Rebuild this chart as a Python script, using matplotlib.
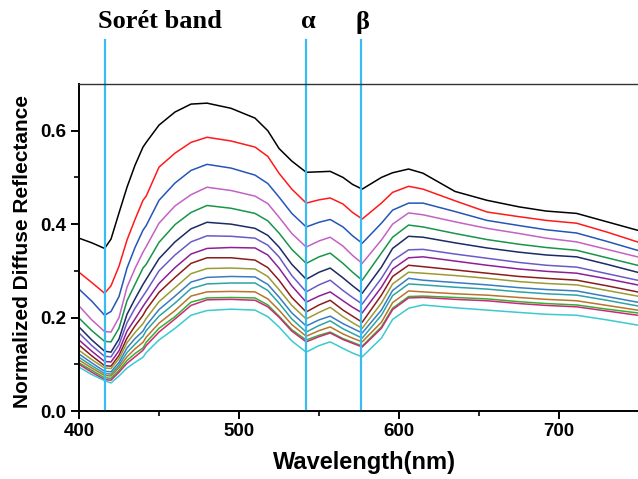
import matplotlib
matplotlib.use("Agg")
import matplotlib.pyplot as plt

# wavelength grid (nm) shared by all spectra
wl = [400, 408, 416, 420, 425, 430, 435, 440, 442, 450, 460, 470, 480, 495, 510,
      518, 525, 533, 542, 550, 557, 565, 571, 577, 589, 596, 606, 615, 635, 655,
      675, 692, 711, 730, 749]

black = [.370, .360, .348, .368, .424, .479, .526, .565, .575, .612, .640, .657, .659, .648, .627,
         .600, .562, .535, .511, .512, .513, .500, .485, .475, .500, .510, .518, .509, .470, .451,
         .437, .428, .423, .405, .387]
red = [.297, .275, .252, .268, .310, .366, .410, .451, .460, .522, .552, .575, .586, .578, .565,
       .545, .509, .475, .445, .452, .456, .443, .425, .411, .445, .468, .481, .475, .450, .426,
       .416, .408, .402, .383, .362]
blue = [.261, .235, .205, .213, .245, .306, .350, .387, .397, .451, .488, .515, .528, .520, .505,
        .487, .458, .423, .394, .404, .410, .394, .375, .359, .402, .430, .445, .445, .427, .408,
        .397, .388, .381, .363, .344]
orchid = [.225, .195, .170, .169, .200, .265, .305, .340, .352, .402, .439, .463, .479, .472, .460,
          .444, .415, .380, .351, .364, .372, .353, .333, .316, .366, .400, .424, .420, .405, .391,
          .380, .370, .362, .346, .330]
green = [.199, .172, .149, .148, .177, .236, .271, .306, .314, .361, .399, .425, .440, .434, .423,
         .407, .381, .346, .316, .330, .338, .316, .297, .280, .338, .372, .398, .394, .380, .367,
         .357, .350, .344, .328, .312]
navy = [.180, .152, .128, .126, .154, .207, .240, .271, .282, .326, .362, .390, .404, .400, .391,
        .376, .351, .314, .282, .297, .306, .285, .268, .252, .308, .348, .374, .372, .360, .349,
        .340, .334, .330, .314, .297]
slate = [.167, .140, .117, .116, .142, .189, .220, .246, .256, .300, .334, .362, .375, .374, .370,
         .355, .330, .290, .255, .270, .280, .258, .243, .229, .284, .322, .345, .346, .336, .327,
         .318, .312, .308, .294, .280]
purple = [.152, .128, .106, .105, .129, .171, .197, .224, .234, .273, .307, .336, .348, .350, .349,
          .334, .306, .268, .233, .246, .255, .236, .222, .210, .265, .304, .328, .330, .321, .312,
          .304, .299, .295, .283, .270]
darkred = [.141, .118, .097, .096, .119, .156, .182, .205, .217, .254, .286, .316, .328, .328, .323,
           .307, .280, .243, .212, .227, .237, .216, .203, .190, .248, .288, .312, .309, .302, .295,
           .288, .284, .280, .268, .255]
olive = [.130, .110, .092, .091, .112, .146, .168, .187, .198, .234, .264, .294, .305, .306, .304,
         .288, .260, .226, .197, .211, .222, .202, .189, .177, .231, .272, .297, .295, .290, .284,
         .277, .273, .270, .258, .246]
steel = [.122, .103, .085, .084, .104, .135, .155, .171, .183, .217, .246, .276, .286, .288, .287,
         .271, .244, .210, .182, .195, .203, .187, .177, .167, .216, .258, .284, .280, .275, .270,
         .264, .260, .257, .245, .233]
teal = [.115, .097, .080, .079, .098, .125, .143, .160, .172, .203, .231, .262, .272, .274, .274,
        .258, .231, .197, .169, .183, .193, .176, .166, .156, .205, .247, .272, .270, .265, .261,
        .255, .251, .248, .237, .225]
brown = [.109, .092, .076, .075, .093, .116, .133, .147, .158, .188, .215, .246, .255, .256, .255,
         .240, .216, .185, .160, .172, .180, .165, .156, .148, .190, .232, .257, .255, .251, .248,
         .243, .239, .236, .226, .216]
green2 = [.103, .087, .071, .070, .087, .108, .123, .135, .147, .177, .202, .233, .242, .243, .242,
          .227, .203, .174, .152, .162, .169, .155, .147, .139, .180, .220, .245, .246, .243, .240,
          .234, .230, .227, .218, .210]
crimson = [.100, .083, .067, .066, .083, .102, .116, .130, .140, .169, .197, .226, .238, .239, .237,
           .223, .201, .171, .148, .159, .167, .153, .145, .137, .177, .217, .242, .243, .239, .236,
           .230, .226, .223, .214, .205]
cyan = [.094, .078, .065, .060, .075, .092, .104, .115, .125, .152, .177, .205, .215, .218, .216,
        .202, .180, .150, .126, .140, .148, .134, .124, .116, .156, .196, .220, .227, .221, .216,
        .211, .207, .205, .195, .184]

spectra = [black, red, blue, orchid, green, navy, slate, purple, darkred, olive,
           steel, teal, brown, green2, crimson, cyan]
colors = ['#000000', '#ff1a1a', '#2456b8', '#c462c4', '#17954a', '#1c2a66', '#6a5ac8', '#8e1f96',
          '#8b1c1c', '#9c9a34', '#3a7cc0', '#2ea3a3', '#b8742c', '#35b035', '#cc2a78', '#3acad0']

band_pos = [416, 542, 576]
band_names = ['Sorét band', 'α', 'β']
label_x = [160, 308, 362]   # px centres of the band labels

W, H = 638, 479
fig = plt.figure(figsize=(W / 100, H / 100), dpi=100)
ax = fig.add_axes([79 / W, 1 - 411 / H, 640 / W, 327 / H])

for s, c in zip(spectra, colors):
    ax.plot(wl, s, color=c, lw=1.1)

for x in band_pos:
    ax.axvline(x, ymin=0.006, ymax=(411 - 40) / 327, color='#3bbcf0', lw=1.6, clip_on=False)

for name, px in zip(band_names, label_x):
    fig.text(px / W, 1 - 22 / H, name, ha='center', va='center', fontsize=19,
             fontweight='bold', family='Liberation Serif')

ax.set_xlim(400, 800)
ax.set_ylim(0, 0.70)
ax.set_xticks([400, 500, 600, 700])
ax.set_xticks([450, 550, 650], minor=True)
ax.set_yticks([0.0, 0.2, 0.4, 0.6])
ax.set_yticks([0.1, 0.3, 0.5], minor=True)
ax.yaxis.set_major_formatter(matplotlib.ticker.FormatStrFormatter('%.1f'))

for sp in ['left', 'bottom']:
    ax.spines[sp].set_linewidth(1.4)
ax.spines['top'].set_linewidth(1.0)
ax.spines['top'].set_color('#333333')
ax.spines['right'].set_visible(False)

ax.tick_params(which='major', direction='out', length=6, width=1.4, labelsize=13.5, pad=3)
ax.tick_params(which='minor', direction='out', length=3.5, width=1.2)
for lab in ax.get_xticklabels() + ax.get_yticklabels():
    lab.set_fontweight('bold')
    lab.set_family('Liberation Sans')

ax.set_xlabel('Wavelength(nm)', fontsize=17, fontweight='bold', family='Liberation Sans')
ax.xaxis.set_label_coords((364 - 79) / 640, (411 - 451) / 327)
ax.set_ylabel('Normalized Diffuse Reflectance', fontsize=15, fontweight='bold',
              family='Liberation Sans')
ax.yaxis.set_label_coords((32 - 79) / 640, (411 - 252) / 327)

fig.savefig('out.png', dpi=100)
